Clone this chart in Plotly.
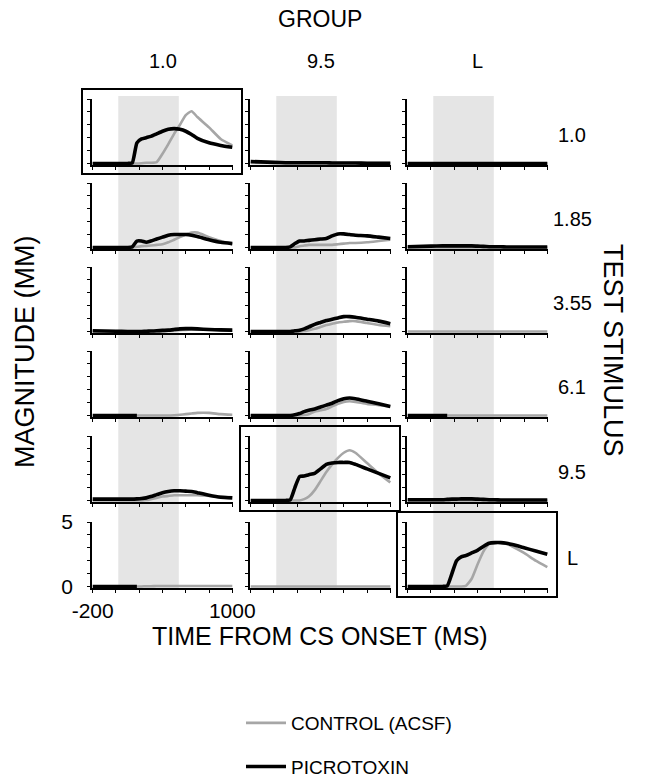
import plotly.graph_objects as go

# ---------------- data ----------------
groups = ["1.0", "9.5", "L"]
tests = ["1.0", "1.85", "3.55", "6.1", "9.5", "L"]
T = [-200, 0, 100, 140, 180, 220, 260, 300, 350, 400, 450, 500, 550, 600, 650, 700, 800, 900, 1000]
N = None

# test 1.0
p_g10_t10 = [0, 0, 0, 0.05, 1.6, 1.9, 2.0, 2.1, 2.3, 2.5, 2.65, 2.7, 2.65, 2.5, 2.25, 1.95, 1.6, 1.4, 1.25]
c_g10_t10 = [0, 0, 0, 0, 0, 0.02, 0.05, 0.05, 0.1, 0.75, 1.5, 2.3, 3.0, 3.75, 4.05, 3.6, 2.8, 1.9, 1.4]
p_g95_t10 = [0.15, 0.08, 0.06, 0.06, 0.06, 0.06, 0.05, 0.05, 0.05, 0.05, 0.05, 0.04, 0.04, 0.04, 0.03, 0.03, 0.02, 0.02, 0.02]
c_g95_t10 = [0.03, 0.03, 0.03, 0.03, 0.03, 0.03, 0.03, 0.03, 0.03, 0.03, 0.03, 0.03, 0.03, 0.03, 0.03, 0.03, 0.03, 0.03, 0.03]
p_gL_t10 = [0, 0, 0, 0, 0, 0, 0, 0, 0, 0, 0, 0, 0, 0, 0, 0, 0, 0, 0]
c_gL_t10 = [0, 0, 0, 0, 0, 0, 0, 0, 0, 0, 0, 0, 0, 0, 0, 0, 0, 0, 0]
# test 1.85
p_g10_t185 = [0, 0, 0, 0.05, 0.5, 0.5, 0.4, 0.5, 0.65, 0.8, 0.95, 1.0, 1.0, 1.0, 0.95, 0.85, 0.6, 0.4, 0.3]
c_g10_t185 = [0, 0, 0, 0, 0.05, 0.1, 0.12, 0.15, 0.2, 0.25, 0.4, 0.6, 0.8, 1.0, 1.15, 1.15, 0.8, 0.5, 0.25]
p_g95_t185 = [0, 0, 0, 0.05, 0.3, 0.5, 0.5, 0.55, 0.6, 0.65, 0.7, 0.9, 1.05, 1.05, 1.0, 0.95, 0.9, 0.8, 0.7]
c_g95_t185 = [0, 0, 0, 0, 0, 0.1, 0.15, 0.2, 0.2, 0.2, 0.2, 0.2, 0.25, 0.3, 0.35, 0.35, 0.4, 0.5, 0.6]
p_gL_t185 = [0.05, 0.1, 0.12, 0.12, 0.12, 0.12, 0.12, 0.12, 0.12, 0.1, 0.08, 0.06, 0.05, 0.05, 0.04, 0.04, 0.03, 0.03, 0.03]
c_gL_t185 = [0, 0, 0, 0, 0, 0, 0, 0, 0, 0, 0, 0, 0, 0, 0, 0, 0, 0, 0]
# test 3.55
p_g10_t355 = [0.05, 0.02, 0, 0, 0, 0, 0.02, 0.03, 0.05, 0.08, 0.1, 0.15, 0.2, 0.22, 0.22, 0.2, 0.15, 0.12, 0.1]
c_g10_t355 = [0, 0, 0, 0, 0, 0, 0, 0, 0, 0.02, 0.05, 0.08, 0.1, 0.12, 0.15, 0.15, 0.15, 0.1, 0.05]
p_g95_t355 = [0, 0, 0, 0, 0.05, 0.1, 0.2, 0.35, 0.55, 0.7, 0.85, 0.95, 1.05, 1.15, 1.15, 1.1, 0.95, 0.8, 0.6]
c_g95_t355 = [0, 0, 0, 0, 0, 0, 0.03, 0.1, 0.2, 0.35, 0.5, 0.6, 0.7, 0.75, 0.8, 0.8, 0.65, 0.5, 0.4]
p_gL_t355 = [N, N, N, N, N, N, N, N, N, N, N, N, N, N, N, N, N, N, N]
c_gL_t355 = [0, 0, 0, 0, 0, 0, 0, 0, 0, 0, 0, 0, 0, 0, 0, 0, 0, 0, 0]
# test 6.1
p_g10_t61 = [0, 0, 0, 0, 0, N, N, N, N, N, N, N, N, N, N, N, N, N, N]
c_g10_t61 = [N, N, N, N, 0, 0, 0, 0, 0, 0, 0, 0.02, 0.05, 0.1, 0.15, 0.2, 0.2, 0.1, 0.05]
p_g95_t61 = [0, 0, 0, 0, 0.05, 0.15, 0.3, 0.4, 0.5, 0.65, 0.8, 0.95, 1.15, 1.3, 1.35, 1.3, 1.1, 0.9, 0.7]
c_g95_t61 = [0, 0, 0, 0, 0, 0, 0.03, 0.1, 0.3, 0.4, 0.5, 0.7, 0.9, 1.05, 1.1, 1.05, 0.9, 0.8, 0.7]
p_gL_t61 = [0, 0, 0, 0, N, N, N, N, N, N, N, N, N, N, N, N, N, N, N]
c_gL_t61 = [N, N, N, 0, 0, 0, 0, 0, 0, 0, 0, 0, 0, 0, 0, 0, 0, 0, 0]
# test 9.5
p_g10_t95 = [0.1, 0.1, 0.1, 0.1, 0.12, 0.15, 0.2, 0.3, 0.45, 0.6, 0.7, 0.75, 0.75, 0.72, 0.7, 0.6, 0.4, 0.25, 0.2]
c_g10_t95 = [0, 0, 0, 0, 0, 0, 0.03, 0.1, 0.2, 0.3, 0.35, 0.4, 0.4, 0.4, 0.4, 0.4, 0.35, 0.3, 0.25]
p_g95_t95 = [0, 0, 0, 0.05, 1.0, 1.85, 1.9, 2.0, 2.1, 2.45, 2.8, 2.9, 2.95, 2.95, 2.95, 2.8, 2.45, 2.1, 1.75]
c_g95_t95 = [0, 0, 0, 0, 0, 0, 0.1, 0.3, 0.8, 1.5, 2.2, 2.8, 3.3, 3.7, 3.9, 3.7, 2.9, 2.1, 1.4]
p_gL_t95 = [0.05, 0.05, 0.06, 0.08, 0.1, 0.1, 0.12, 0.12, 0.12, 0.1, 0.08, 0.06, 0.05, 0.04, 0.03, 0.03, 0.03, 0.03, 0.03]
c_gL_t95 = [0, 0, 0, 0, 0, 0, 0, 0, 0, 0, 0, 0, 0, 0, 0, 0, 0, 0, 0]
# test L
p_g10_tL = [0, 0, 0, 0, 0, N, N, N, N, N, N, N, N, N, N, N, N, N, N]
c_g10_tL = [N, N, N, N, 0, 0, 0.02, 0.02, 0.03, 0.03, 0.03, 0.03, 0.03, 0.03, 0.03, 0.03, 0.03, 0.03, 0.03]
p_g95_tL = [N, N, N, N, N, N, N, N, N, N, N, N, N, N, N, N, N, N, N]
c_g95_tL = [0, 0, 0, 0, 0, 0, 0, 0, 0, 0, 0, 0, 0, 0, 0, 0, 0, 0, 0]
p_gL_tL = [0, 0, 0, 0.05, 1.0, 2.0, 2.3, 2.4, 2.6, 2.8, 3.1, 3.35, 3.4, 3.4, 3.35, 3.25, 3.0, 2.75, 2.5]
c_gL_tL = [0, 0, 0, 0, 0, 0, 0, 0.05, 0.6, 1.7, 2.7, 3.3, 3.4, 3.4, 3.3, 3.1, 2.6, 2.0, 1.5]

cs_window = [20, 540]          # shaded CS period (ms)
boxed = [(0, 0), (4, 1), (5, 2)]  # (row, col) panels with a frame

PICRO = [
    [p_g10_t10, p_g95_t10, p_gL_t10],
    [p_g10_t185, p_g95_t185, p_gL_t185],
    [p_g10_t355, p_g95_t355, p_gL_t355],
    [p_g10_t61, p_g95_t61, p_gL_t61],
    [p_g10_t95, p_g95_t95, p_gL_t95],
    [p_g10_tL, p_g95_tL, p_gL_tL],
]
CTRL = [
    [c_g10_t10, c_g95_t10, c_gL_t10],
    [c_g10_t185, c_g95_t185, c_gL_t185],
    [c_g10_t355, c_g95_t355, c_gL_t355],
    [c_g10_t61, c_g95_t61, c_gL_t61],
    [c_g10_t95, c_g95_t95, c_gL_t95],
    [c_g10_tL, c_g95_tL, c_gL_tL],
]

# ---------------- layout geometry ----------------
W, H = 647, 778
col_px = [(92, 233), (250, 391), (407, 548)]
row_bottom_px = [165, 249, 333, 417, 502, 588]
row_h = 66
FONT = "Liberation Sans, Arial, sans-serif"
GRAY = "#a6a6a6"
SHADE = "#e5e5e5"

fig = go.Figure()
layout = dict(
    width=W, height=H, margin=dict(l=0, r=0, t=0, b=0, pad=0, autoexpand=False),
    paper_bgcolor="white", plot_bgcolor="rgba(0,0,0,0)",
    font=dict(family=FONT, color="black"),
    showlegend=True,
    legend=dict(x=241 / W, y=1 - 704 / H, xanchor="left", yanchor="top",
                font=dict(size=19, family=FONT), tracegroupgap=16, itemwidth=40,
                bgcolor="rgba(0,0,0,0)"),
)
shapes = []
annotations = []

for r in range(6):
    for c in range(3):
        i = r * 3 + c + 1
        xs = "" if i == 1 else str(i)
        x0p, x1p = col_px[c]
        yb = row_bottom_px[r]
        yt = yb - row_h
        bottom_left = (r == 5 and c == 0)
        xticks = [-200, 0, 200, 400, 600, 800, 1000]
        layout["xaxis" + xs] = dict(
            domain=[x0p / W, x1p / W], anchor="y" + xs, range=[-206, 1006],
            showgrid=False, zeroline=False, showline=True, linecolor="black", linewidth=1.5,
            ticks="outside", ticklen=3, tickwidth=1, tickcolor="black",
            tickvals=xticks,
            ticktext=[("-200" if v == -200 else "1000" if v == 1000 else "") for v in xticks] if bottom_left else [""] * len(xticks),
            tickfont=dict(size=21, family=FONT), automargin=False, fixedrange=True,
        )
        yticks = [0, 1, 2, 3, 4, 5]
        layout["yaxis" + xs] = dict(
            domain=[1 - yb / H, 1 - yt / H], anchor="x" + xs, range=[-0.12, 5.0],
            showgrid=False, zeroline=False, showline=True, linecolor="black", linewidth=1.5,
            ticks="outside", ticklen=3, tickwidth=1, tickcolor="black",
            tickvals=yticks,
            ticktext=[("0" if v == 0 else "5" if v == 5 else "") for v in yticks] if bottom_left else [""] * len(yticks),
            tickfont=dict(size=21, family=FONT), ticklabelstandoff=10, automargin=False, fixedrange=True,
        )
        first = (r == 0 and c == 0)
        fig.add_trace(go.Scatter(
            x=T, y=CTRL[r][c], mode="lines", xaxis="x" + xs, yaxis="y" + xs,
            line=dict(color=GRAY, width=2.6, shape="spline", smoothing=0.5),
            name="CONTROL (ACSF)", legendgroup="ctrl", showlegend=first,
            connectgaps=False,
        ))
        fig.add_trace(go.Scatter(
            x=T, y=PICRO[r][c], mode="lines", xaxis="x" + xs, yaxis="y" + xs,
            line=dict(color="black", width=3.6, shape="spline", smoothing=0.5),
            name="PICROTOXIN", legendgroup="picro", showlegend=first,
            connectgaps=False,
        ))
        if r == 0:
            shapes.append(dict(
                type="rect", xref="x" + xs, yref="paper",
                x0=cs_window[0], x1=cs_window[1],
                y0=1 - 590 / H, y1=1 - 96 / H,
                fillcolor=SHADE, line=dict(width=0), layer="below",
            ))
        if (r, c) in boxed:
            shapes.append(dict(
                type="rect", xref="x" + xs + " domain", yref="y" + xs + " domain",
                x0=-10 / 141, x1=1 + 9 / 141, y0=-9 / row_h, y1=1 + 10 / row_h,
                line=dict(color="black", width=2), fillcolor="rgba(0,0,0,0)",
            ))


def label(text, xpx, ypx, size, angle=0):
    return dict(text=text, x=xpx / W, y=1 - ypx / H, xref="paper", yref="paper",
                xanchor="center", yanchor="middle", showarrow=False, textangle=angle,
                font=dict(size=size, family=FONT))


for c, g in enumerate(groups):
    x0p, x1p = col_px[c]
    annotations.append(label(g, (x0p + x1p) / 2, 61, 20))
for r, t in enumerate(tests):
    annotations.append(label(t, 572, row_bottom_px[r] - 30, 20))

annotations += [
    label("GROUP", 320, 19, 23),
    label("TEST STIMULUS", 613, 350, 27, 90),
    label("MAGNITUDE (MM)", 25, 352, 27, -90),
    label("TIME FROM CS ONSET (MS)", 320, 636, 25),
]

layout["shapes"] = shapes
layout["annotations"] = annotations
fig.update_layout(**layout)
fig.write_html("out.html", config={"displayModeBar": False},
               post_script="document.body.style.margin='0px';document.body.style.padding='0px';")
